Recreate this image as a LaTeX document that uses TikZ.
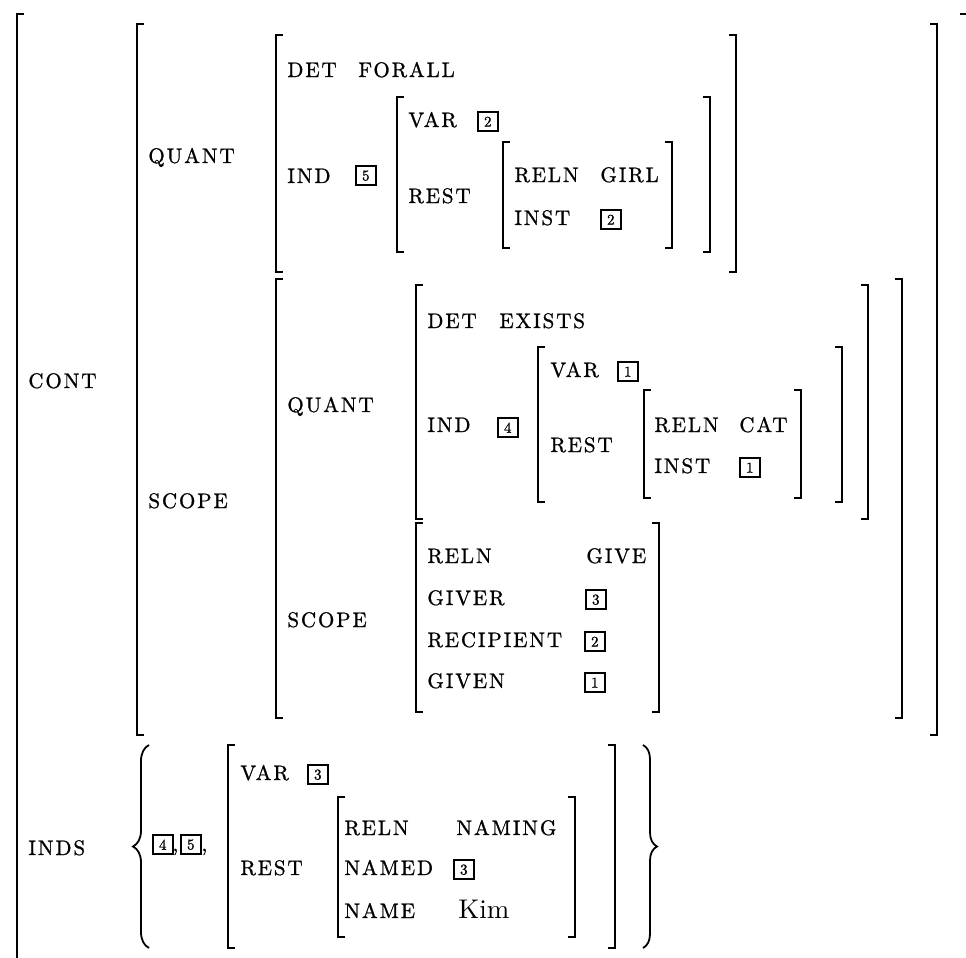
\documentclass[tikz,border=0pt]{standalone}
\usepackage{fontspec}
\usepackage{tikz}
\usetikzlibrary{decorations.pathreplacing}
\newfontfamily\avmfam{lmroman10-regular}[Extension=.otf, LetterSpace=9, FakeBold=1]
\newfontfamily\kimfam{lmroman10-regular}[Extension=.otf]
\newfontfamily\tagfam{lmroman10-regular}[Extension=.otf, FakeBold=1]
% a pair of square brackets: left x, right x, top y, bottom y
\newcommand{\avm}[4]{%
  \draw[brk] ({#1+7},#3) -- (#1,#3) -- (#1,#4) -- ({#1+7},#4);
  \draw[brk] ({#2-7},#3) -- (#2,#3) -- (#2,#4) -- ({#2-7},#4);}

\begin{document}
\begin{tikzpicture}[
  x=0.5pt, y=-0.5pt,
  lab/.style={anchor=base west, inner sep=0pt, font=\avmfam\fontsize{10.5}{12}\selectfont},
  val/.style={anchor=base west, inner sep=0pt, font=\kimfam\fontsize{13.5}{15}\selectfont},
  tag/.style={draw, line width=0.8pt, anchor=south west, inner sep=0pt,
              minimum width=10pt, minimum height=9.5pt,
              font=\tagfam\fontsize{7.5}{8}\selectfont},
  brk/.style={line width=1.1pt},
  curly/.style={line width=0.9pt, decorate,
                decoration={brace, amplitude=#1, aspect=0.5}}
]
\clip (0,0) rectangle (966,958);

% outer matrix
\draw[brk] (24,14) -- (17,14) -- (17,975);
\draw[brk] (960,14) -- (967,14) -- (967,975);
\node[lab] (cont) at (28,388) {CONT};
\node[lab] (inds) at (28,855) {INDS};

% CONT value
\avm{137}{937}{24}{735}
\node[lab] (quantA) at (148,163) {QUANT};
\node[lab] (scopeA) at (148,508) {SCOPE};

% first quantifier
\avm{276}{736}{35}{272}
\node[lab] (detA) at (287,77) {DET};
\node[lab] (forall) at (358,77) {FORALL};
\node[lab] (indA) at (287,183) {IND};
\node[tag] (tagA5) at (355,186) {5};
\avm{397}{710}{97}{252}
\node[lab] (varA) at (408,127) {VAR};
\node[tag] (tagA2) at (477,132) {2};
\node[lab] (restA) at (408,203) {REST};
\avm{503}{672}{142}{248}
\node[lab] (relnA) at (514,182) {RELN};
\node[lab] (girl) at (600,182) {GIRL};
\node[lab] (instA) at (514,225) {INST};
\node[tag] (tagA2b) at (600,230) {2};

% scope
\avm{276}{902}{279}{718}
\node[lab] (quantB) at (287,412) {QUANT};
\node[lab] (scopeB) at (287,627) {SCOPE};

% second quantifier
\avm{416}{868}{285}{519}
\node[lab] (detB) at (427,328) {DET};
\node[lab] (exists) at (499,328) {EXISTS};
\node[lab] (indB) at (427,432) {IND};
\node[tag] (tagB4) at (497,438) {4};
\avm{538}{842}{347}{502}
\node[lab] (varB) at (550,377) {VAR};
\node[tag] (tagB1) at (617,382) {1};
\node[lab] (restB) at (550,452) {REST};
\avm{644}{801}{390}{498}
\node[lab] (relnB) at (654,432) {RELN};
\node[lab] (cat) at (739,432) {CAT};
\node[lab] (instB) at (654,473) {INST};
\node[tag] (tagB1b) at (739,478) {1};

% give relation
\avm{416}{659}{523}{712}
\node[lab] (relnC) at (427,563) {RELN};
\node[lab] (give) at (586,563) {GIVE};
\node[lab] (giver) at (427,605) {GIVER};
\node[tag] (tagC3) at (585,610) {3};
\node[lab] (recip) at (427,647) {RECIPIENT};
\node[tag] (tagC2) at (584,652) {2};
\node[lab] (given) at (427,688) {GIVEN};
\node[tag] (tagC1) at (584,693) {1};

% INDS value
\draw[curly=8pt] (149,948) -- (149,745);
\draw[curly=7pt] (643,745) -- (643,948);
\node[tag] (tagD4) at (152,855) {4};
\node[lab] (comA) at (172,851) {,};
\node[tag] (tagD5) at (180,855) {5};
\node[lab] (comB) at (201,851) {,};
\avm{228}{615}{745}{948}
\node[lab] (varD) at (240,780) {VAR};
\node[tag] (tagD3) at (307,785) {3};
\node[lab] (restD) at (240,875) {REST};
\avm{338}{575}{797}{937}
\node[lab] (relnD) at (344,835) {RELN};
\node[lab] (naming) at (456,835) {NAMING};
\node[lab] (named) at (344,875) {NAMED};
\node[tag] (tagD3b) at (453,880) {3};
\node[lab] (name) at (344,918) {NAME};
\node[val] (kim) at (458,918) {Kim};
\end{tikzpicture}
\end{document}
